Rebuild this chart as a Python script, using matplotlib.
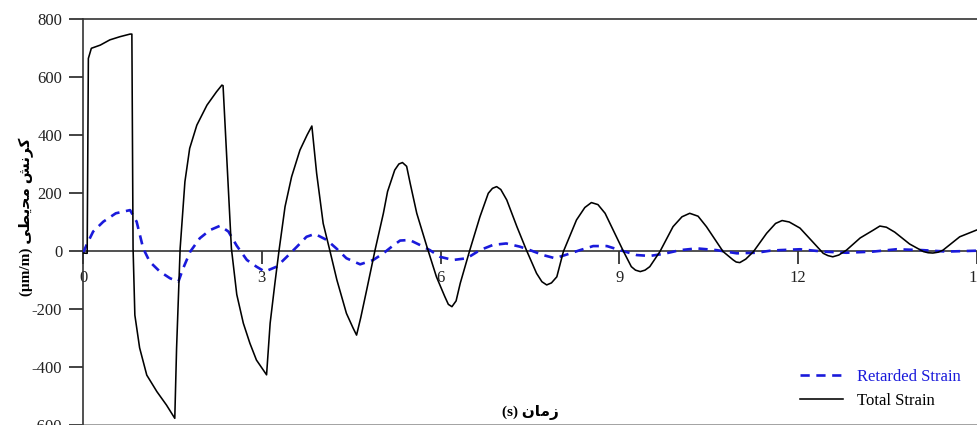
import numpy as np
import matplotlib
matplotlib.use("Agg")
import matplotlib.pyplot as plt

plt.rcParams['font.family'] = ['Liberation Serif', 'DejaVu Sans']
plt.rcParams['axes.unicode_minus'] = False

# TOTAL STRAIN
t_total = [0.00, 0.07, 0.09, 0.14, 0.29, 0.45, 0.62, 0.79, 0.82,
           0.84, 0.87, 0.95, 1.07, 1.24, 1.40, 1.54,
           1.57, 1.63, 1.71, 1.79, 1.91, 2.08, 2.24, 2.33,
           2.35, 2.49, 2.58, 2.69, 2.80, 2.91, 3.08,
           3.14, 3.22, 3.29, 3.39, 3.50, 3.64, 3.76, 3.84,
           3.92, 4.03, 4.14, 4.26, 4.42, 4.53, 4.59,
           4.66, 4.76, 4.90, 5.04, 5.11, 5.23, 5.30, 5.36, 5.43,
           5.49, 5.60, 5.77, 5.93, 6.07, 6.13, 6.19, 6.26,
           6.33, 6.49, 6.66, 6.80, 6.87, 6.94, 7.01,
           7.11, 7.28, 7.44, 7.61, 7.70, 7.78, 7.86,
           7.95, 8.06, 8.28, 8.42, 8.53, 8.64,
           8.76, 8.95, 9.07, 9.20, 9.27, 9.35, 9.43,
           9.51, 9.68, 9.90, 10.05, 10.18, 10.32,
           10.46, 10.74, 10.91, 10.96, 11.02, 11.12,
           11.25, 11.47, 11.62, 11.73, 11.85,
           12.03, 12.25, 12.42, 12.50, 12.58, 12.68, 12.81, 13.04, 13.26, 13.37, 13.48,
           13.62, 13.87, 14.10, 14.18, 14.26, 14.35, 14.43, 14.71, 14.99]
v_total = [-7, -8, 664, 699, 710, 728, 739, 748, 748,
           10, -221, -334, -428, -485, -531, -577,
           -336, 9, 239, 354, 434, 503, 549, 572,
           570, 9, -150, -249, -318, -376, -427,
           -249, -111, 3, 153, 256, 348, 400, 431,
           268, 95, 3, -100, -215, -265, -290,
           -230, -134, 3, 130, 205, 279, 300, 305, 292,
           233, 130, 15, -89, -157, -184, -192, -172,
           -111, 3, 118, 199, 216, 222, 212,
           176, 84, 3, -77, -106, -117, -110,
           -89, -2, 107, 150, 167, 160,
           130, 49, -2, -54, -66, -71, -66,
           -54, -2, 84, 118, 130, 120,
           84, -2, -31, -38, -40, -28,
           -2, 61, 95, 105, 100,
           79, 30, -8, -16, -20, -14, 3, 45, 72, 86, 82,
           65, 24, -2, -6, -7, -4, 3, 49, 72]

# RETARDED STRAIN
t_ret = [0.00, 0.06, 0.17, 0.34, 0.55, 0.79, 0.90, 1.01, 1.12, 1.29, 1.46, 1.60,
         1.68, 1.80, 1.96, 2.13, 2.30, 2.44, 2.58, 2.75, 2.91, 3.05,
         3.25, 3.42, 3.59, 3.75, 3.89, 4.09, 4.25, 4.42, 4.65,
         4.87, 5.04, 5.18, 5.32, 5.48, 5.65, 5.82, 5.99, 6.21,
         6.44, 6.66, 6.88, 7.10, 7.33, 7.50, 7.72, 7.92,
         8.12, 8.34, 8.56, 8.79, 9.01, 9.29, 9.51,
         9.74, 10.02, 10.30, 10.63, 10.97, 11.30, 11.53, 11.69,
         12.03, 12.42, 12.81, 13.26, 13.65, 14.09, 14.49, 14.99]
v_ret = [-7, 21, 67, 101, 130, 141, 101, 9, -37, -71, -94, -106,
         -60, -2, 44, 72, 87, 67, 18, -31, -54, -71,
         -54, -20, 15, 49, 59, 38, 9, -25, -46,
         -31, -8, 15, 36, 38, 21, 3, -20, -31,
         -25, 3, 21, 26, 15, 3, -14, -25,
         -12, 3, 17, 17, 3, -14, -17,
         -10, 3, 9, 3, -8, -6, 1, 3,
         6, -2, -6, -2, 6, 3, -2, 1]

x_ticks = [0, 3, 6, 9, 12, 15]
y_ticks = [-600, -400, -200, 0, 200, 400, 600, 800]

# Persian labels in visual order with presentation forms
ylabel_fa = "(\u03bcm/m) " + "\uFBFD\uFEC4\uFBFE\uFEA4\uFEE3" + " " + "\uFEB6\uFEE7\uFEAE\uFB90"
xlabel_fa = "(s) " + "\uFEE5\uFE8E\uFEE3\uFEAF"

fig = plt.figure(figsize=(9.77, 4.25), dpi=100)
ax = fig.add_axes([83 / 977, 0, 1 - 83 / 977, 406 / 425])

ax.plot(t_ret, v_ret, color='#1a1adb', lw=1.9, linestyle=(0, (3.5, 2.5)),
        label='Retarded Strain', zorder=3)
ax.plot(t_total, v_total, color='black', lw=1.15, label='Total Strain', zorder=4)

ax.set_xlim(0, 15)
ax.set_ylim(-600, 800)
ax.set_xticks(x_ticks)
ax.set_yticks(y_ticks)

ax.spines['right'].set_visible(False)
ax.spines['bottom'].set_position(('data', 0))
for s in ['left', 'top', 'bottom']:
    ax.spines[s].set_color('#333333')
    ax.spines[s].set_linewidth(1.2)
ax.axhline(-600, color='#999999', lw=2, clip_on=False)

ax.tick_params(axis='y', direction='out', length=10, width=1.2, pad=5,
               labelsize=12, colors='#222222')
ax.tick_params(axis='x', direction='out', length=9, width=1.2, pad=5,
               labelsize=12, colors='#222222')

fig.text(0.027, 1 - 217 / 425, ylabel_fa, rotation=90, ha='center', va='center',
         fontsize=11, fontweight='bold')
ax.text(0.5, 0.032, xlabel_fa, transform=ax.transAxes, ha='center', va='center',
        fontsize=11, fontweight='bold')

ax.legend(loc='lower right', frameon=False, fontsize=12, handlelength=2.6,
          labelcolor='linecolor', bbox_to_anchor=(0.99, 0.022),
          bbox_transform=fig.transFigure, borderaxespad=0, labelspacing=0.5)

fig.savefig('out.png', dpi=100)
